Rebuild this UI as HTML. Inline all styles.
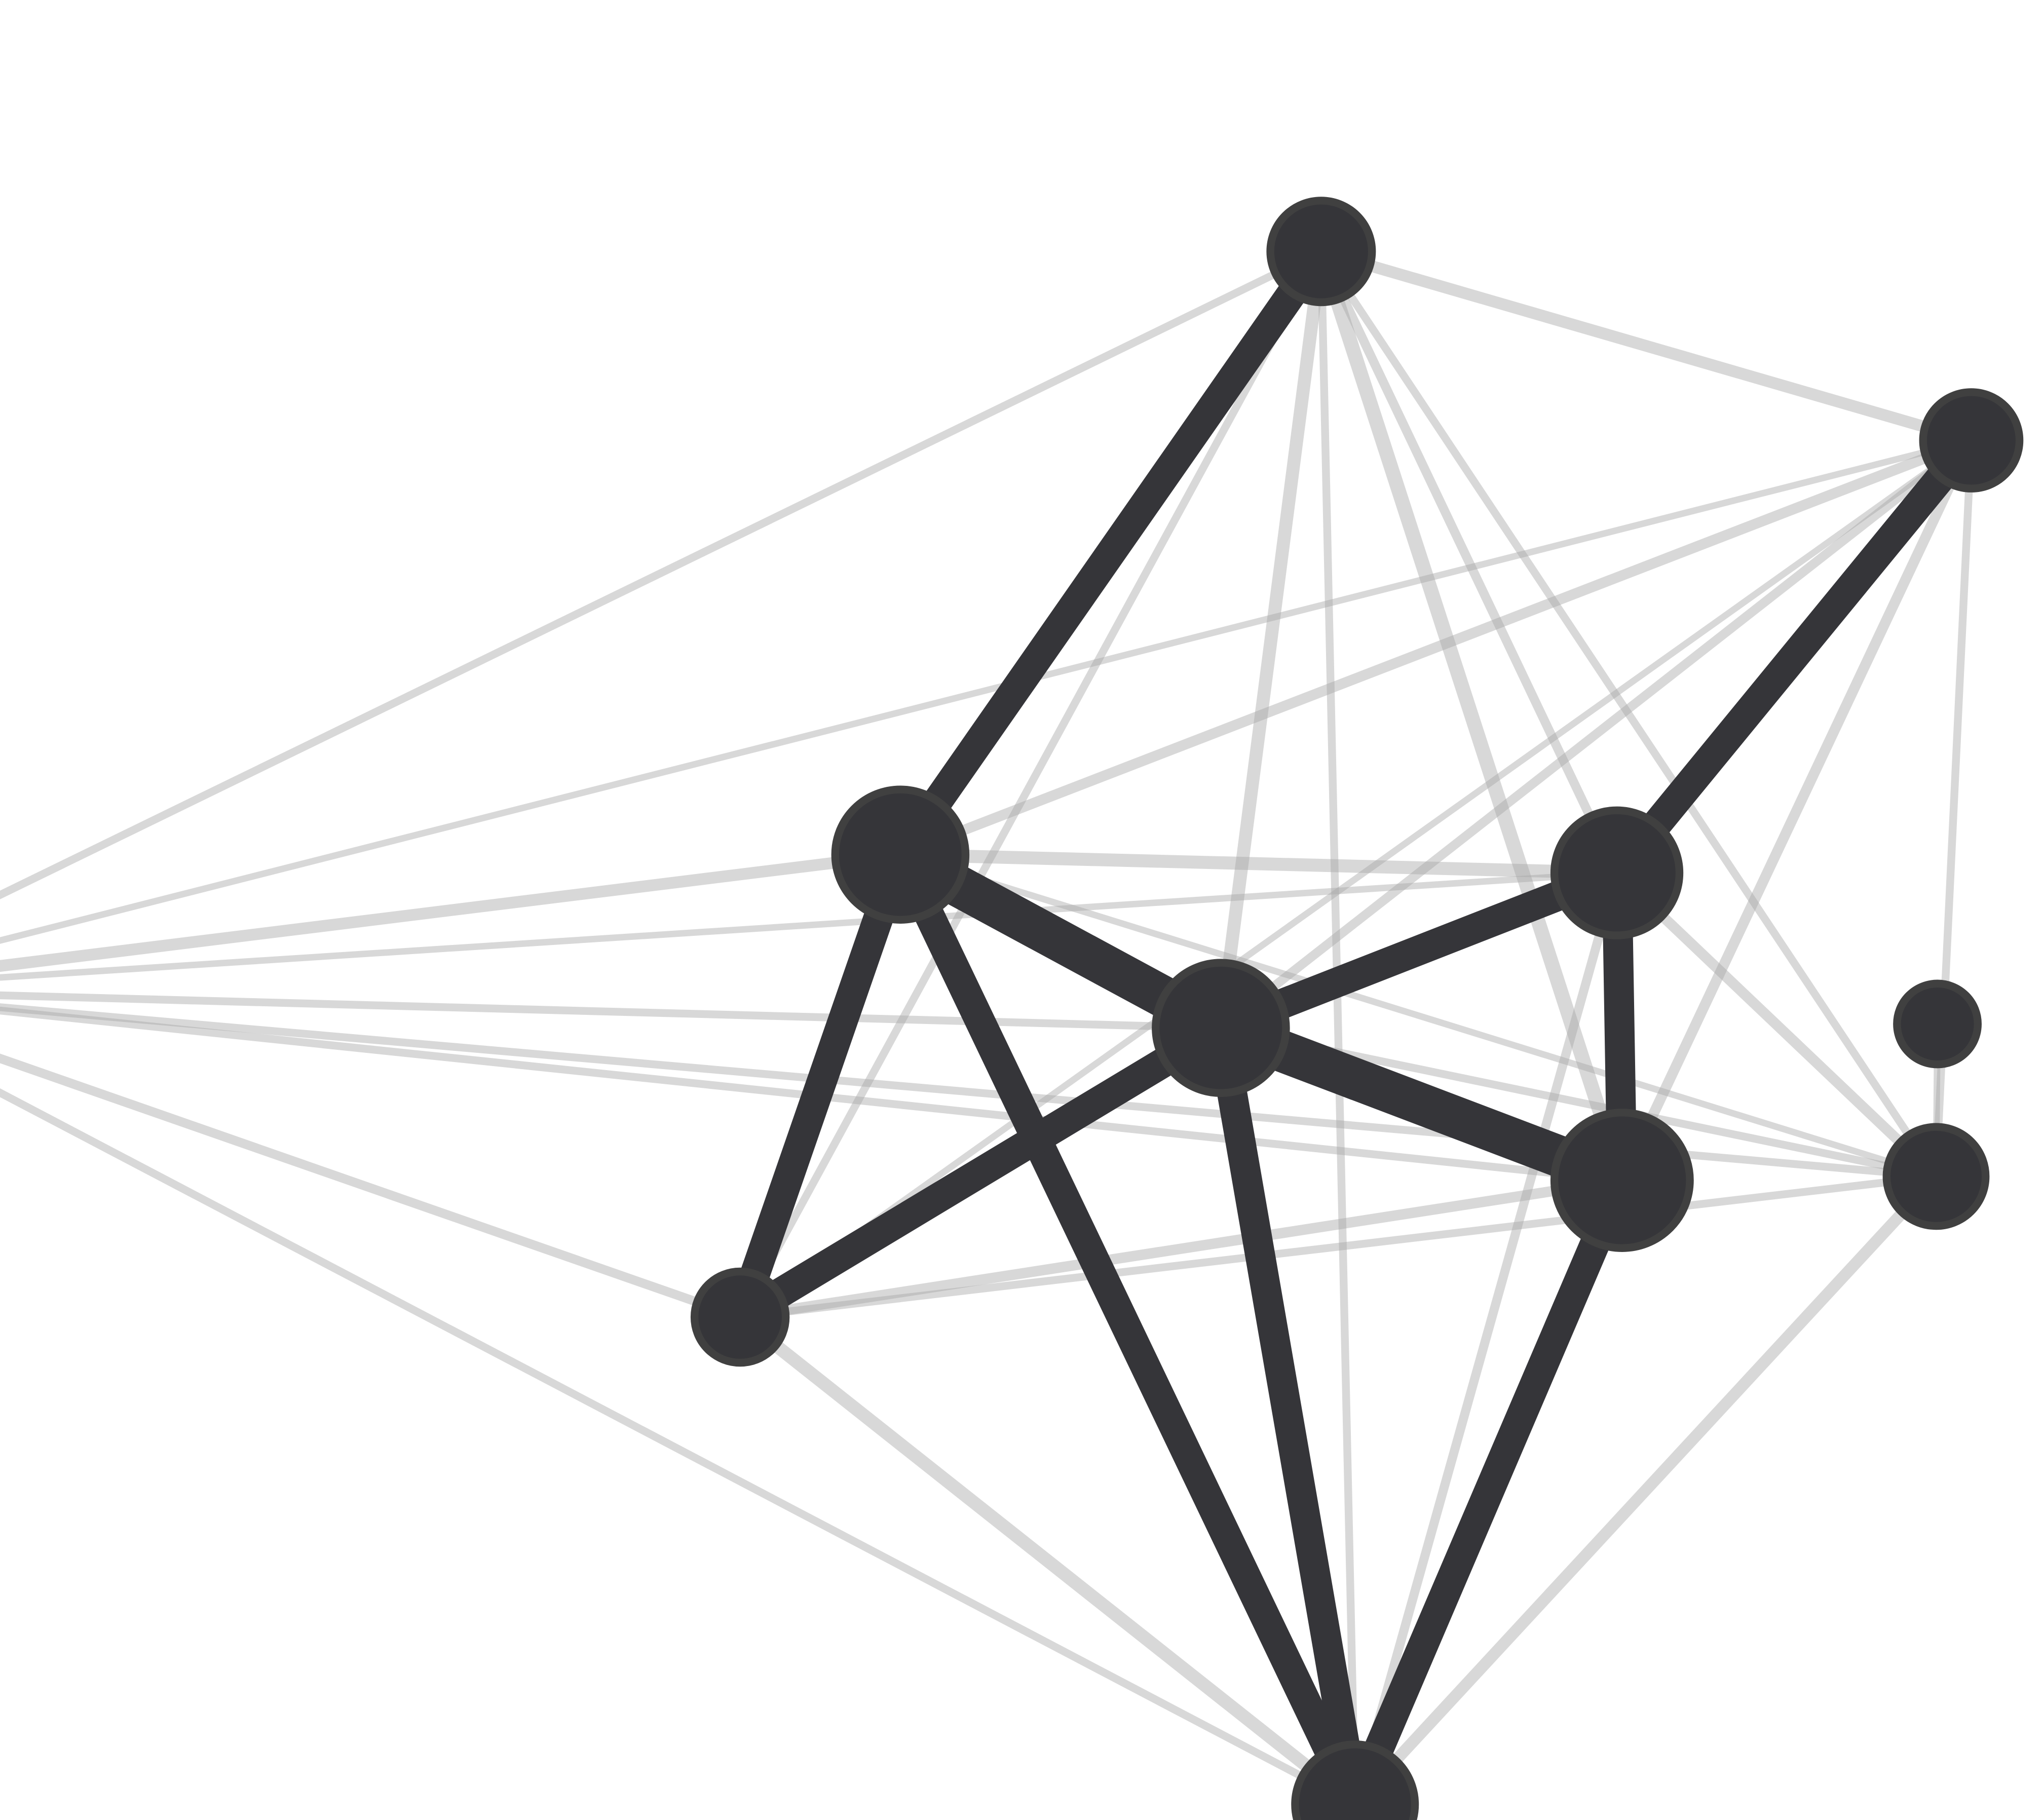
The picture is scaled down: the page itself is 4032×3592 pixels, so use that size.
<!DOCTYPE html>
<html><head><meta charset="utf-8">
<style>
html,body{margin:0;padding:0;background:#fff;}
svg{display:block;}
</style></head>
<body>
<svg id="chart" width="4032" height="3592" viewBox="0 0 1568 1397" xmlns="http://www.w3.org/2000/svg">
<g id="light"></g>
<g id="dark"></g>
<g id="nodes"></g>
</svg>
<script>
const nodeIds = ["A","B","C","D","E","F","G","H","I","J","L"];
const nodeX = [1014,1513,691,1241,937,1487,1486,1245,568,1040,-150];
const nodeY = [193,338,656,670,789,786,903,906,1011,1385,760];
const nodeR = [42,40,53,51,53,34,41,55,38,49,40];
const strongEdges = [["A","C",23],["B","D",23],["C","E",32],["C","I",23],["C","J",23],["E","D",23],["E","H",32],["E","I",23],["E","J",23],["D","H",23],["H","J",23]];
const weakEdges = [["L","A",6],["L","C",9],["L","D",5],["L","E",6],["L","G",6],["L","H",6],["L","I",7],["L","J",6],["L","B",5],
 ["A","B",9],["A","E",10],["A","J",6],["A","H",11],["A","G",6],["A","I",6],["A","D",7],
 ["B","C",8],["B","E",7],["B","H",8],["B","I",5],["B","G",6],
 ["C","D",10],["C","G",5],["I","H",8],["I","G",6],["I","J",10],["J","G",9],["J","D",7],["D","G",8],["E","G",6],["F","G",5]];

const NS="http://www.w3.org/2000/svg";
const idx = id => nodeIds.indexOf(id);
const light=document.getElementById('light'), dark=document.getElementById('dark'), ng=document.getElementById('nodes');
weakEdges.forEach(([a,b,w])=>{
  const l=document.createElementNS(NS,'line');
  l.setAttribute('x1',nodeX[idx(a)]);l.setAttribute('y1',nodeY[idx(a)]);
  l.setAttribute('x2',nodeX[idx(b)]);l.setAttribute('y2',nodeY[idx(b)]);
  l.setAttribute('stroke','#a8a8a8');l.setAttribute('stroke-opacity','0.45');l.setAttribute('stroke-width',w);
  
  
  light.appendChild(l);
});
strongEdges.forEach(([a,b,w])=>{
  const l=document.createElementNS(NS,'line');
  l.setAttribute('x1',nodeX[idx(a)]);l.setAttribute('y1',nodeY[idx(a)]);
  l.setAttribute('x2',nodeX[idx(b)]);l.setAttribute('y2',nodeY[idx(b)]);
  l.setAttribute('stroke','#353539');l.setAttribute('stroke-width',w);
  
  
  dark.appendChild(l);
});
nodeIds.forEach((id,i)=>{
  const c=document.createElementNS(NS,'circle');
  c.setAttribute('cx',nodeX[i]);c.setAttribute('cy',nodeY[i]);c.setAttribute('r',nodeR[i]-3);
  c.setAttribute('fill','#353539');c.setAttribute('stroke','#404040');c.setAttribute('stroke-width',6);
  
  
  ng.appendChild(c);
});
</script>
</body></html>
